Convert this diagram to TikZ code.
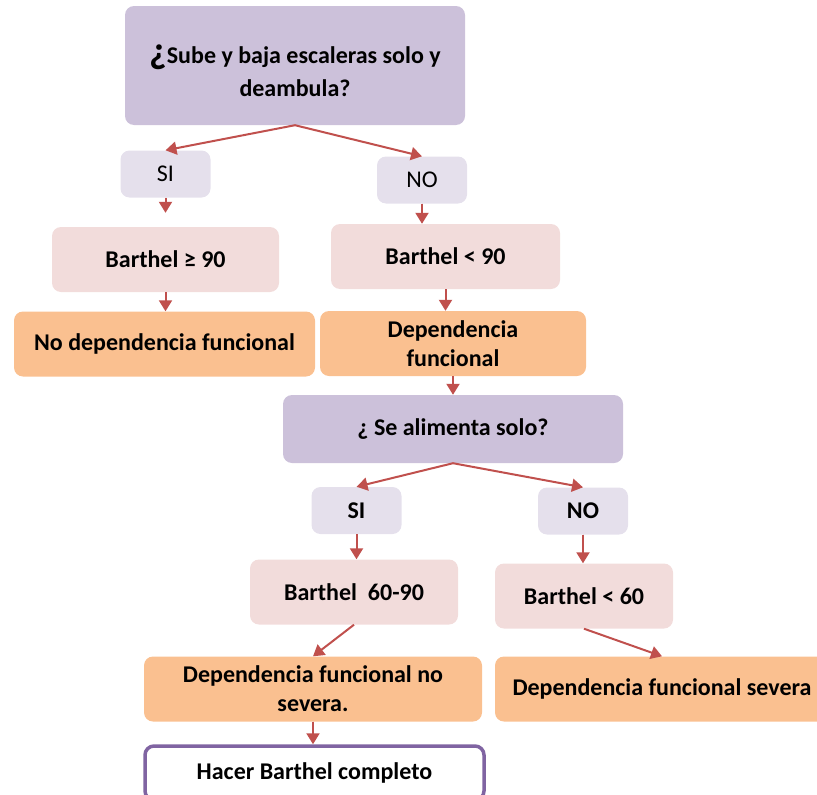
\documentclass[tikz,border=0pt]{standalone}
\usepackage{fontspec}
\setmainfont{Carlito}
\usetikzlibrary{arrows.meta}
\definecolor{lila}{HTML}{CCC1DA}
\definecolor{lilaclaro}{HTML}{E5E0EC}
\definecolor{rosa}{HTML}{F2DCDB}
\definecolor{naranja}{HTML}{FAC090}
\definecolor{rojo}{HTML}{C0504D}
\definecolor{morado}{HTML}{8064A2}
\begin{document}
\begin{tikzpicture}[x=1pt, y=-1pt, >={Triangle[width=13pt,length=11pt]}, font=\fontsize{24}{29}\selectfont\bfseries, line join=round,
		caja/.style={rounded corners=9pt, align=center, inner sep=0pt},
		pregunta/.style={caja, fill=lila, minimum width=340pt},
		opcion/.style={caja, fill=lilaclaro, minimum width=90pt, minimum height=47pt},
		barthel/.style={caja, fill=rosa, minimum height=65pt},
		resultado/.style={caja, fill=naranja, minimum height=65pt},
		flecha/.style={->, draw=rojo, fill=rojo, line width=2pt}]
				\useasboundingbox (0,0) rectangle (817,795);
				\clip (0,0) rectangle (817,795);
				% primera pregunta
				\node[pregunta, minimum height=119pt] (q1) at (295,65.5) {\rule{0pt}{30pt}{\fontsize{38}{38}\selectfont\smash{¿}}Sube y baja escaleras solo y\\[4pt]deambula?};
				\node[opcion, font=\fontsize{24}{29}\selectfont\mdseries] (si1) at (165.5,174) {SI};
				\node[opcion, font=\fontsize{24}{29}\selectfont\mdseries] (no1) at (422,180) {NO};
				\node[barthel, minimum width=227pt] (b90) at (165.5,259.5) {Barthel ≥ 90};
				\node[barthel, minimum width=229pt] (bl90) at (445.5,256.5) {Barthel < 90};
				\node[resultado, minimum width=301pt] (nodep) at (164.5,344) {No dependencia funcional};
				\node[resultado, minimum width=266pt] (dep) at (453,343.5) {Dependencia\\funcional};
				% segunda pregunta
				\node[pregunta, minimum height=68pt] (q2) at (453,429) {¿ Se alimenta solo?};
				\node[opcion] (si2) at (356.5,510.5) {SI};
				\node[opcion] (no2) at (583,511) {NO};
				\node[barthel, minimum width=208pt] (b6090) at (354,592) {Barthel\ \ 60-90};
				\node[barthel, minimum width=178pt] (bl60) at (584,596) {Barthel < 60};
				\node[resultado, minimum width=338pt] (depns) at (313,689) {Dependencia funcional no\\severa.};
				\node[resultado, minimum width=334pt] (deps) at (662,689) {Dependencia funcional severa};
				\node[caja, draw=morado, line width=3.5pt, fill=white, minimum width=339pt, minimum height=54pt] (hacer) at (314.5,773) {Hacer Barthel completo};
				% flechas
				\foreach \a/\b in {q1/si1, q1/no1, q2/si2, q2/no2, b6090/depns, bl60/deps}
				\draw[flecha] (\a.south) -- (\b.north);
				\foreach \a/\b in {no1/bl90, bl90/dep, b90/nodep, dep/q2, si2/b6090, no2/bl60, depns/hacer}
				\draw[flecha] (\a.south) -- (\a.south |- \b.north);
				\draw[flecha, shorten >=14pt] (si1.south) -- (b90.north);
			\end{tikzpicture}
\end{document}
